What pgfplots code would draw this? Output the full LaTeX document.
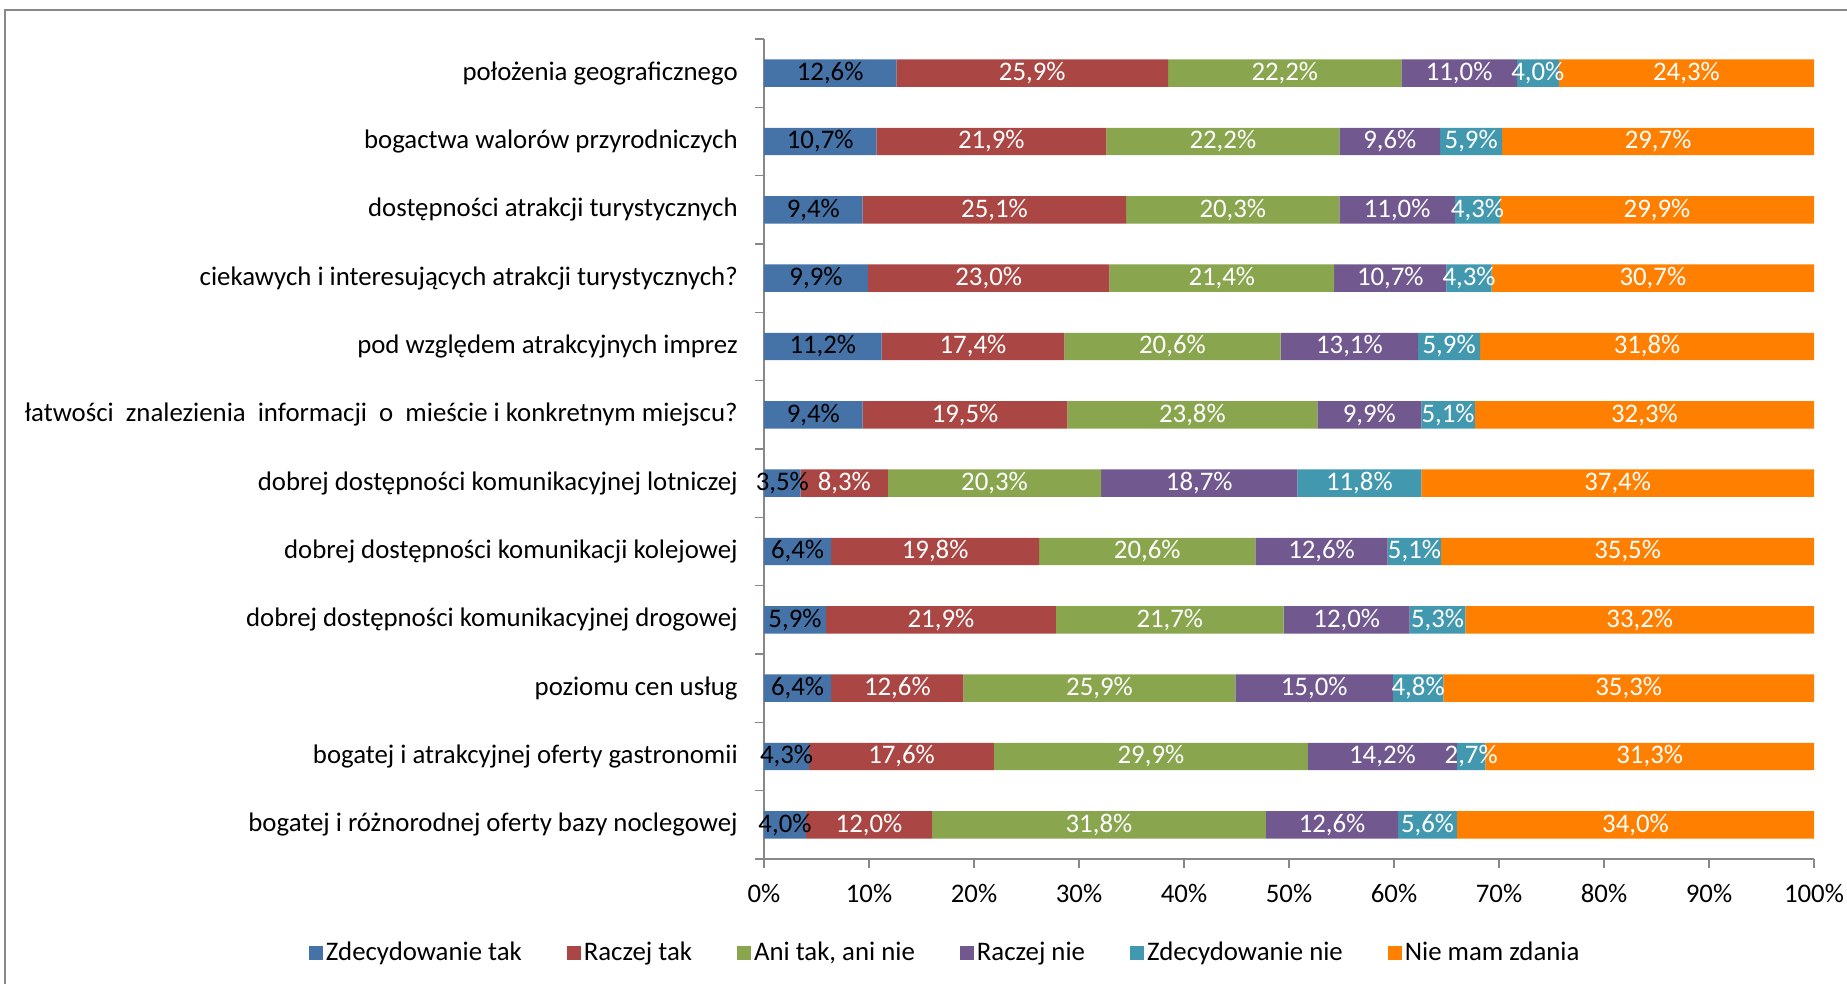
\documentclass[border=0pt]{standalone}
\usepackage{pgfplots}
\usepackage{pgfplotstable}
\pgfplotsset{compat=1.18}
\usepackage{fontspec}
\setmainfont{Carlito}
\definecolor{c1}{HTML}{4572A7}
\definecolor{c2}{HTML}{AA4643}
\definecolor{c3}{HTML}{89A54E}
\definecolor{c4}{HTML}{71588F}
\definecolor{c5}{HTML}{4198AF}
\definecolor{c6}{HTML}{FF8000}
\definecolor{axgray}{HTML}{888888}
\pgfplotstableread{
idx zt rt an rn zn nm
11 12.6 25.9 22.2 11.0 4.0 24.3
10 10.7 21.9 22.2 9.6 5.9 29.7
9 9.4 25.1 20.3 11.0 4.3 29.9
8 9.9 23.0 21.4 10.7 4.3 30.7
7 11.2 17.4 20.6 13.1 5.9 31.8
6 9.4 19.5 23.8 9.9 5.1 32.3
5 3.5 8.3 20.3 18.7 11.8 37.4
4 6.4 19.8 20.6 12.6 5.1 35.5
3 5.9 21.9 21.7 12.0 5.3 33.2
2 6.4 12.6 25.9 15.0 4.8 35.3
1 4.3 17.6 29.9 14.2 2.7 31.3
0 4.0 12.0 31.8 12.6 5.6 34.0
}\data
% label positions: middle of each segment
\pgfplotstablecreatecol[create col/expr={\thisrow{zt}/2}]{m1}{\data}
\pgfplotstablecreatecol[create col/expr={\thisrow{zt}+\thisrow{rt}/2}]{m2}{\data}
\pgfplotstablecreatecol[create col/expr={\thisrow{zt}+\thisrow{rt}+\thisrow{an}/2}]{m3}{\data}
\pgfplotstablecreatecol[create col/expr={\thisrow{zt}+\thisrow{rt}+\thisrow{an}+\thisrow{rn}/2}]{m4}{\data}
\pgfplotstablecreatecol[create col/expr={\thisrow{zt}+\thisrow{rt}+\thisrow{an}+\thisrow{rn}+\thisrow{zn}/2}]{m5}{\data}
\pgfplotstablecreatecol[create col/expr={\thisrow{zt}+\thisrow{rt}+\thisrow{an}+\thisrow{rn}+\thisrow{zn}+\thisrow{nm}/2}]{m6}{\data}
\pgfplotsset{
  common/.style={
    at={(0,0)}, anchor=south west,
    scale only axis, width=525pt, height=410pt,
    xmin=0, xmax=100, ymin=-0.5, ymax=11.5,
  },
  lab/.style={
    draw=none, mark=none, point meta=explicit,
    nodes near coords={\pgfmathprintnumber[fixed,fixed zerofill,precision=1,use comma,assume math mode=true]{\pgfplotspointmeta}\%},
    every node near coord/.style={anchor=center, inner sep=0pt, text=#1},
  },
}
\begin{document}
\fontsize{13.4}{16}\selectfont
\begin{tikzpicture}
\draw[axgray, line width=0.75pt] (-379.5pt,-100pt) -- (-379.5pt,424.5pt) -- (700pt,424.5pt);
\begin{axis}[
  common,
  xbar stacked, bar width=13.7pt,
  axis x line*=bottom, axis y line*=left,
  axis line style={draw=axgray, line width=0.8pt, -},
  tick align=outside, major tick length=4.5pt,
  tick style={draw=axgray, line width=0.8pt},
  xtick={0,10,...,100},
  xticklabel={\pgfmathprintnumber[assume math mode=true]{\tick}\%},
  xticklabel style={yshift=-3.3pt},
  ytick={-0.5,0.5,...,11.5},
  y tick label as interval,
  yticklabels={
    bogatej i różnorodnej oferty bazy noclegowej,
    bogatej i atrakcyjnej oferty gastronomii,
    poziomu cen usług,
    dobrej dostępności komunikacyjnej drogowej,
    dobrej dostępności komunikacji kolejowej,
    dobrej dostępności komunikacyjnej lotniczej,
    {łatwości\ \ znalezienia\ \ informacji\ \ o\ \ mieście i konkretnym miejscu?},
    pod względem atrakcyjnych imprez,
    ciekawych i interesujących atrakcji turystycznych?,
    dostępności atrakcji turystycznych,
    bogactwa walorów przyrodniczych,
    położenia geograficznego,
  },
  yticklabel style={xshift=-4pt},
  legend columns=6,
  legend style={draw=none, at={(0.173,-0.115)}, anchor=center,
    /tikz/every even column/.append style={column sep=21pt},
    nodes={inner sep=1.5pt}},
  legend image code/.code={\fill[#1] (0pt,-3.5pt) rectangle (7pt,3.5pt);},
]
\addplot[fill=c1, draw=none] table[x=zt, y=idx] {\data};
\addplot[fill=c2, draw=none] table[x=rt, y=idx] {\data};
\addplot[fill=c3, draw=none] table[x=an, y=idx] {\data};
\addplot[fill=c4, draw=none] table[x=rn, y=idx] {\data};
\addplot[fill=c5, draw=none] table[x=zn, y=idx] {\data};
\addplot[fill=c6, draw=none] table[x=nm, y=idx] {\data};
\legend{Zdecydowanie tak, Raczej tak, {Ani tak, ani nie}, Raczej nie, Zdecydowanie nie, Nie mam zdania}
\end{axis}
\begin{axis}[common, hide axis]
\addplot[lab=black] table[x=m1, y=idx, meta=zt] {\data};
\addplot[lab=white] table[x=m2, y=idx, meta=rt] {\data};
\addplot[lab=white] table[x=m3, y=idx, meta=an] {\data};
\addplot[lab=white] table[x=m4, y=idx, meta=rn] {\data};
\addplot[lab=white] table[x=m5, y=idx, meta=zn] {\data};
\addplot[lab=white] table[x=m6, y=idx, meta=nm] {\data};
\end{axis}
\pgfresetboundingbox
\path[use as bounding box] (-382pt,-62.5pt) rectangle (541.5pt,429.5pt);
\end{tikzpicture}
\end{document}
